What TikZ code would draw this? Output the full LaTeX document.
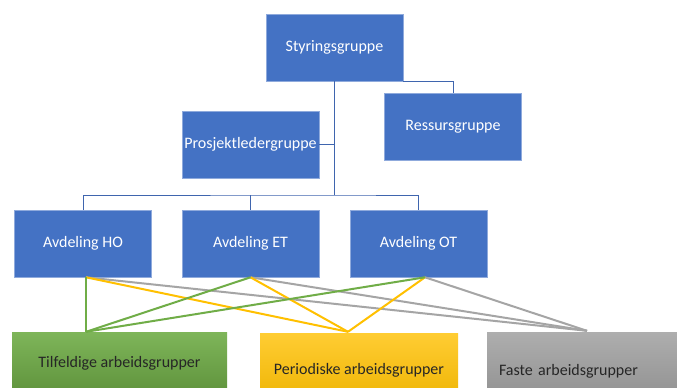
\documentclass[tikz,border=0pt]{standalone}
\usepackage{fontspec}
\setmainfont{Carlito}
\definecolor{boxblue}{HTML}{4472C4}
\definecolor{boxedge}{HTML}{8FAADC}
\definecolor{treeline}{HTML}{3F65AE}
\definecolor{lgreen}{HTML}{70AD47}
\definecolor{lyellow}{HTML}{FFC000}
\definecolor{lgray}{HTML}{A5A5A5}
\begin{document}
\begin{tikzpicture}[x=1pt,y=-1pt,
  bluebox/.style={rectangle,fill=boxblue,draw=boxedge,line width=0.6pt,
    minimum width=137pt,minimum height=67pt,inner sep=1pt,text=white,
    font=\fontsize{16}{18}\selectfont},
  workbox/.style={rectangle,inner sep=0pt,text=black!85,
    font=\fontsize{16}{18}\selectfont},
  tree/.style={draw=treeline,line width=1pt},
  link/.style={line width=2pt}]
\useasboundingbox (0,0) rectangle (677,388);
\fill[white] (0,0) rectangle (677,388);
\begin{scope}
\clip (0,0) rectangle (677,388);
% blue boxes
\node[bluebox] (sty) at (334.5,47.5) {Styringsgruppe};
\node[bluebox] (res) at (453,126.5) {Ressursgruppe};
\node[bluebox] (pro) at (250.5,144.5) {Prosjektledergruppe};
\node[bluebox] (ho) at (83,243.5) {Avdeling HO};
\node[bluebox] (et) at (250.5,243.5) {Avdeling ET};
\node[bluebox] (ot) at (418.5,243.5) {Avdeling OT};
% tree connectors
\coordinate (bus) at (334.5,195);
\draw[tree] (sty.south) -- (bus);
\draw[tree] (pro.east) -- (pro.east -| bus);
\draw[tree] (ho.north) |- (bus) -| (ot.north);
\draw[tree] (et.north) -- (et.north |- bus);
\draw[tree] (sty.south east) -| (res.north);
% work group boxes
\node[workbox,minimum width=215pt,minimum height=62pt,
  shading=axis,top color=lgreen!90!white,bottom color=lgreen!85!black] (til) at (119.5,363) {Tilfeldige arbeidsgrupper};
\node[workbox,minimum width=198pt,minimum height=74pt,
  shading=axis,top color=lyellow!80!white,bottom color=lyellow!93!black] (per) at (359,370) {Periodiske arbeidsgrupper};
\node[workbox,minimum width=190pt,minimum height=78pt,text width=166pt,align=left,inner xsep=12pt,
  shading=axis,top color=lgray!90!white,bottom color=lgray!85!black] (fas) at (582,371) {Faste arbeidsgrupper};
% links
\coordinate (hoP) at ([xshift=3pt]ho.south);
\coordinate (etP) at (et.south);
\coordinate (otP) at ([xshift=6.5pt]ot.south);
\coordinate (tilP) at ([xshift=-33.5pt]til.north);
\coordinate (perP) at ([xshift=-11pt,yshift=1pt]per.north);
\coordinate (fasP) at ([xshift=5pt,yshift=1pt]fas.north);
\draw[link,lgray] (hoP) -- (fasP);
\draw[link,lgray] (etP) -- (fasP);
\draw[link,lgray] (otP) -- (fasP);
\draw[link,lyellow] (hoP) -- (perP);
\draw[link,lyellow] (etP) -- (perP);
\draw[link,lyellow] (otP) -- (perP);
\draw[link,lgreen] (hoP) -- (tilP);
\draw[link,lgreen] (etP) -- (tilP);
\draw[link,lgreen] (otP) -- (tilP);
\end{scope}
\end{tikzpicture}
\end{document}
